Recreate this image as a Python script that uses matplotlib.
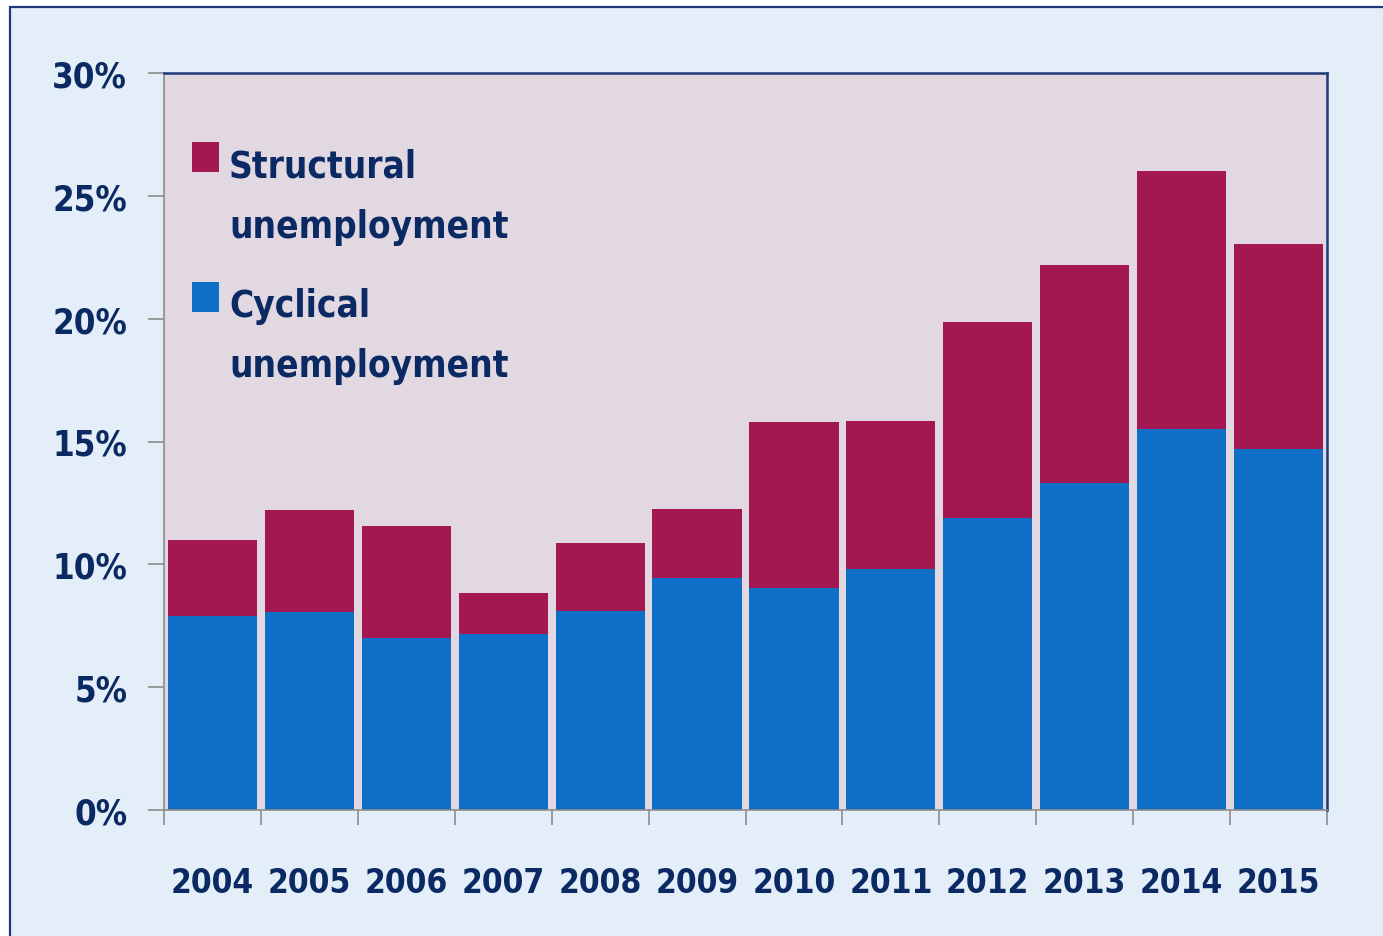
import matplotlib
matplotlib.use("Agg")
import matplotlib.pyplot as plt
from matplotlib.patches import Rectangle
from matplotlib.ticker import FixedLocator, PercentFormatter

# ── Data ──────────────────────────────────────────────────────────────────────
years = ["2004", "2005", "2006", "2007", "2008", "2009",
         "2010", "2011", "2012", "2013", "2014", "2015"]
cyclical = [7.9, 8.05, 7.0, 7.15, 8.1, 9.45, 9.05, 9.8, 11.9, 13.3, 15.5, 14.7]
total = [11.0, 12.2, 11.55, 8.85, 10.85, 12.25, 15.8, 15.85, 19.85, 22.2, 26.0, 23.05]
structural = [t - c for t, c in zip(total, cyclical)]
y_ticks = [0, 5, 10, 15, 20, 25, 30]

# ── Style ─────────────────────────────────────────────────────────────────────
BG_OUTER = "#E4EEF8"
BG_PLOT = "#E2D8E2"
MAGENTA = "#A41852"
BLUE = "#0F6FC6"
NAVY = "#0B2A63"
FRAME = "#1F3A7A"
GREY = "#8C8C8C"
plt.rcParams["font.family"] = ["DejaVu Sans"]
plt.rcParams["font.stretch"] = "condensed"
plt.rcParams["font.weight"] = "bold"

W, H = 1383, 937
fig = plt.figure(figsize=(W / 100, H / 100), dpi=100, facecolor="white")

# outer panel with navy frame (runs off the right and bottom edges)
fig.patches.append(Rectangle((10 / W, -0.1), 1.2, 1.1 - 8 / H,
                             transform=fig.transFigure, facecolor=BG_OUTER,
                             edgecolor=FRAME, linewidth=1.6, zorder=-1))

ax = fig.add_axes([164 / W, 1 - 811 / H, (1327 - 164) / W, (811 - 74) / H])
ax.set_facecolor(BG_PLOT)

x = list(range(len(years)))
ax.bar(x, cyclical, width=0.92, color=BLUE)
ax.bar(x, structural, width=0.92, bottom=cyclical, color=MAGENTA)

ax.set_xlim(-0.5, len(years) - 0.5)
ax.set_ylim(0, 30)

# y axis
ax.set_yticks(y_ticks)
ax.yaxis.set_major_formatter(PercentFormatter(decimals=0))
ax.tick_params(axis="y", length=11.5, width=1.2, color=GREY, pad=15,
               labelsize=25, labelcolor=NAVY)

# x axis: labels at centres, ticks at boundaries
ax.set_xticks(x)
ax.set_xticklabels(years)
ax.xaxis.set_minor_locator(FixedLocator([i - 0.5 for i in range(len(years) + 1)]))
ax.tick_params(axis="x", which="major", length=0, pad=40, labelsize=24,
               labelcolor=NAVY)
ax.tick_params(axis="x", which="minor", length=11, width=1.2, color=GREY)

for side in ("left", "bottom"):
    ax.spines[side].set_color(GREY)
    ax.spines[side].set_linewidth(1.2)
for side in ("top", "right"):
    ax.spines[side].set_color(FRAME)
    ax.spines[side].set_linewidth(1.8)

# ── Legend: square beside the first line of a two-line label ─────────────────
legend_items = [(MAGENTA, "Structural", "unemployment", 143, 178),
                (BLUE, "Cyclical", "unemployment", 283, 317)]
for color, line1, line2, sq_top, base in legend_items:
    fig.patches.append(Rectangle((192 / W, 1 - (sq_top + 30) / H), 27 / W, 30 / H,
                                 transform=fig.transFigure, facecolor=color,
                                 edgecolor="none", zorder=5))
    fig.text(229 / W, 1 - base / H, line1, ha="left", va="baseline",
             fontsize=26.5, color=NAVY, zorder=6)
    fig.text(229 / W, 1 - (base + 60) / H, line2, ha="left", va="baseline",
             fontsize=26.5, color=NAVY, zorder=6)

fig.savefig("out.png", dpi=100, facecolor=fig.get_facecolor())
